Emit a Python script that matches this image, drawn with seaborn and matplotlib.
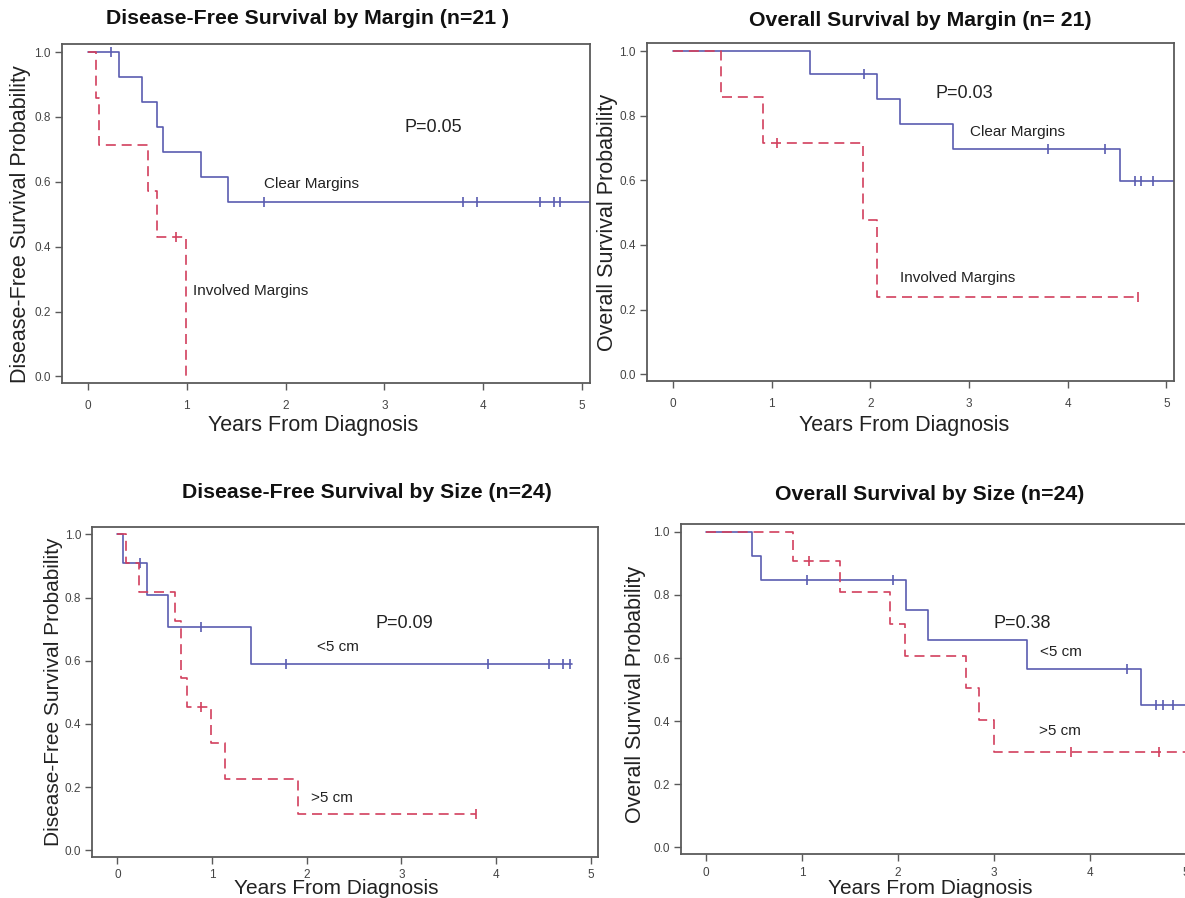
import numpy as np
import matplotlib
matplotlib.use("Agg")
import matplotlib.pyplot as plt
import seaborn as sns

# Kaplan-Meier curves (event times in years, survival)
# Disease-free survival by margin
dfs_clear_t = [0, 0.317, 0.549, 0.703, 0.761, 1.144, 1.422, 5.2]
dfs_clear_s = [1.0, 0.923, 0.846, 0.769, 0.692, 0.615, 0.538, 0.538]
dfs_clear_cens = [0.23, 1.785, 3.80, 3.94, 4.57, 4.72, 4.78]
dfs_inv_t = [0, 0.077, 0.116, 0.61, 0.70, 0.997]
dfs_inv_s = [1.0, 0.857, 0.714, 0.571, 0.429, 0.0]
dfs_inv_cens = [0.889]

# Overall survival by margin
os_clear_t = [0, 1.39, 2.065, 2.30, 2.835, 4.53, 5.2]
os_clear_s = [1.0, 0.929, 0.851, 0.774, 0.697, 0.597, 0.597]
os_clear_cens = [1.93, 3.80, 4.375, 4.68, 4.74, 4.865]
os_inv_t = [0, 0.485, 0.909, 1.92, 2.065, 4.715]
os_inv_s = [1.0, 0.857, 0.714, 0.476, 0.238, 0.238]
os_inv_cens = [1.055, 4.715]

# Disease-free survival by size
dfs_small_t = [0, 0.063, 0.314, 0.536, 1.412, 4.80]
dfs_small_s = [1.0, 0.909, 0.808, 0.707, 0.589, 0.589]
dfs_small_cens = [0.24, 0.887, 1.78, 3.92, 4.56, 4.71, 4.78]
dfs_large_t = [0, 0.089, 0.225, 0.604, 0.677, 0.738, 0.988, 1.134, 1.909, 3.787]
dfs_large_s = [1.0, 0.909, 0.818, 0.727, 0.545, 0.455, 0.341, 0.227, 0.114, 0.114]
dfs_large_cens = [0.887, 3.787]

# Overall survival by size
os_small_t = [0, 0.48, 0.576, 2.08, 2.31, 3.344, 4.536, 5.2]
os_small_s = [1.0, 0.923, 0.846, 0.752, 0.658, 0.564, 0.451, 0.451]
os_small_cens = [1.056, 1.948, 4.39, 4.69, 4.756, 4.868]
os_large_t = [0, 0.91, 1.40, 1.92, 2.07, 2.71, 2.84, 3.0, 5.2]
os_large_s = [1.0, 0.909, 0.808, 0.707, 0.606, 0.505, 0.404, 0.303, 0.303]
os_large_cens = [1.07, 3.80, 4.72]

x_ticks = [0, 1, 2, 3, 4, 5]
y_ticks = [0.0, 0.2, 0.4, 0.6, 0.8, 1.0]

BLUE = "#5a5cb0"
RED = "#d2405e"

sns.set_style("white")
plt.rcParams["font.family"] = ["Liberation Sans", "DejaVu Sans"]

W, H = 1185, 898
fig = plt.figure(figsize=(W / 100, H / 100), dpi=100)


def px_axes(left, top, right, bottom):
    return fig.add_axes([left / W, 1 - bottom / H, (right - left) / W, (bottom - top) / H])


def step_at(t, s, x):
    i = np.searchsorted(t, x, side="right") - 1
    return s[max(i, 0)]


def km(ax, t, s, cens, color, dashed):
    ls = (0, (6, 3.5)) if dashed else "-"
    sns.lineplot(x=t, y=s, drawstyle="steps-post", estimator=None, sort=False,
                 color=color, linestyle=ls, linewidth=1.2, ax=ax)
    cy = [step_at(t, s, c) for c in cens]
    ax.plot(cens, cy, linestyle="none", marker="|", markersize=7,
            markeredgewidth=1.2, color=color)


def style(ax, xpad):
    ax.set_xlim(-0.265, 5.08)
    ax.set_ylim(-0.021, 1.024)
    ax.set_xticks(x_ticks)
    ax.set_xticklabels([str(v) for v in x_ticks])
    ax.set_yticks(y_ticks)
    ax.set_yticklabels([f"{v:.1f}" for v in y_ticks])
    for sp in ax.spines.values():
        sp.set_color("#5a5a5a")
        sp.set_linewidth(1.3)
    ax.tick_params(axis="both", which="both", direction="out", length=5, width=1,
                   color="#5a5a5a", labelsize=8.5, labelcolor="#444444",
                   bottom=True, left=True, top=False, right=False)
    ax.tick_params(axis="x", pad=xpad)
    ax.tick_params(axis="y", pad=3)
    ax.set_xlabel("")
    ax.set_ylabel("")


def ftext(x, y, s, **kw):
    fig.text(x / W, 1 - y / H, s, ha="center", va="center", **kw)


panels = [
    dict(box=(61.7, 44.3, 590, 383.3), xpad=7,
         curves=[(dfs_clear_t, dfs_clear_s, dfs_clear_cens, BLUE, False),
                 (dfs_inv_t, dfs_inv_s, dfs_inv_cens, RED, True)],
         title=("Disease-Free Survival by Margin (n=21 )", 307, 19),
         ylabel=("Disease-Free Survival Probability", 21, 224, 15.5),
         xlabel=(313, 425, 15.5),
         notes=[("P=0.05", 433, 128, 13), ("Clear Margins", 311, 184, 11),
                ("Involved Margins", 251, 291, 11)]),
    dict(box=(647, 43.3, 1174.3, 381), xpad=7,
         curves=[(os_clear_t, os_clear_s, os_clear_cens, BLUE, False),
                 (os_inv_t, os_inv_s, os_inv_cens, RED, True)],
         title=("Overall Survival by Margin (n= 21)", 920, 20),
         ylabel=("Overall Survival Probability", 607, 222, 15.5),
         xlabel=(904, 425, 15.5),
         notes=[("P=0.03", 964, 93, 13), ("Clear Margins", 1018, 132, 11),
                ("Involved Margins", 958, 278, 11)]),
    dict(box=(92.3, 526.7, 598.3, 857), xpad=4,
         curves=[(dfs_small_t, dfs_small_s, dfs_small_cens, BLUE, False),
                 (dfs_large_t, dfs_large_s, dfs_large_cens, RED, True)],
         title=("Disease-Free Survival by Size (n=24)", 367, 493),
         ylabel=("Disease-Free Survival Probability", 54, 692, 15),
         xlabel=(336, 889, 15),
         notes=[("P=0.09", 404, 624, 13), ("<5 cm", 338, 647, 11),
                (">5 cm", 332, 798, 11)]),
    dict(box=(680.7, 524.3, 1193.6, 854), xpad=4,
         curves=[(os_small_t, os_small_s, os_small_cens, BLUE, False),
                 (os_large_t, os_large_s, os_large_cens, RED, True)],
         title=("Overall Survival by Size (n=24)", 930, 495),
         ylabel=("Overall Survival Probability", 636, 694, 15.5),
         xlabel=(930, 888, 15),
         notes=[("P=0.38", 1022, 623, 13), ("<5 cm", 1061, 652, 11),
                (">5 cm", 1060, 731, 11)]),
]

for p in panels:
    ax = px_axes(*p["box"])
    for t, s, c, col, dashed in p["curves"]:
        km(ax, t, s, c, col, dashed)
    style(ax, p["xpad"])
    title, tx, ty = p["title"]
    ftext(tx, ty, title, fontsize=15.3, fontweight="bold", color="#111111")
    ylab, yx, yy, yfs = p["ylabel"]
    ftext(yx, yy, ylab, fontsize=yfs, rotation=90, color="#222222")
    xx, xy, xfs = p["xlabel"]
    ftext(xx, xy, "Years From Diagnosis", fontsize=xfs, color="#222222")
    for s, nx, ny, fs in p["notes"]:
        ftext(nx, ny, s, fontsize=fs, color="#222222")

fig.savefig("out.png", dpi=100)
